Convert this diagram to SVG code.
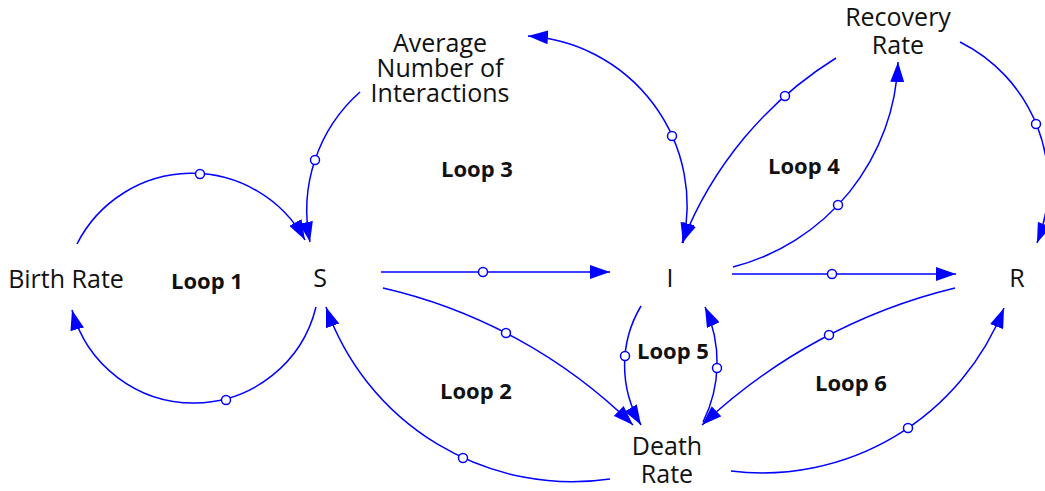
<svg xmlns="http://www.w3.org/2000/svg" width="1045" height="491" viewBox="0 0 1045 491">
<style>
.lbl{font-family:"Open Sans","Liberation Sans",sans-serif;font-size:25px;fill:#111;text-anchor:middle}
.loop{font-family:"Open Sans","Liberation Sans",sans-serif;font-size:22px;font-weight:bold;fill:#111;text-anchor:middle}
.c{fill:none;stroke:#0000ff;stroke-width:1.5;marker-end:url(#arr)}
.dot{fill:#fff;stroke:#0000ff;stroke-width:1.5}
</style>
<defs>
<marker id="arr" markerUnits="userSpaceOnUse" markerWidth="20" markerHeight="14" viewBox="0 0 20 14" refX="20" refY="7" orient="auto"><path d="M0,0 L20,7 L0,14 z" fill="#0000ff"/></marker>
<marker id="arrs" markerUnits="userSpaceOnUse" markerWidth="20" markerHeight="14" viewBox="0 0 20 14" refX="20" refY="7" orient="auto-start-reverse"><path d="M0,0 L20,7 L0,14 z" fill="#0000ff"/></marker>
</defs>
<rect width="1045" height="491" fill="#fff"/>
<g id="connectors">
<path class="c" d="M77,244 A129,129 0 0 1 305,240"/>
<path class="c" d="M316,307 A126,126 0 0 1 72,310"/>
<path class="c" d="M360,92 A158,158 0 0 0 310,242"/>
<path class="c" style="marker-start:url(#arrs)" d="M528,36 A170,170 0 0 1 683,243"/>
<path class="c" d="M836,58 A383,383 0 0 0 682,243"/>
<path class="c" d="M733,267 A220,220 0 0 0 898,62"/>
<path class="c" d="M960,42 A159,159 0 0 1 1037,243"/>
<path class="c" d="M381,272 L610,272"/>
<path class="c" d="M732,274 L956,274"/>
<path class="c" d="M383,288 A523,523 0 0 1 633,425"/>
<path class="c" d="M610,479 A261,261 0 0 1 326,307"/>
<path class="c" d="M641,306 A116,116 0 0 0 641,425"/>
<path class="c" d="M703,422 A133,133 0 0 0 705,307"/>
<path class="c" d="M955,288 A561,561 0 0 0 702,425"/>
<path class="c" d="M731,471 A260,260 0 0 0 1004,308"/>
<circle class="dot" cx="200" cy="174" r="4.5"/>
<circle class="dot" cx="226" cy="400" r="4.5"/>
<circle class="dot" cx="315" cy="160" r="4.5"/>
<circle class="dot" cx="672" cy="136" r="4.5"/>
<circle class="dot" cx="785" cy="96" r="4.5"/>
<circle class="dot" cx="838" cy="205" r="4.5"/>
<circle class="dot" cx="1036" cy="124" r="4.5"/>
<circle class="dot" cx="483" cy="272" r="4.5"/>
<circle class="dot" cx="832" cy="274" r="4.5"/>
<circle class="dot" cx="506" cy="333" r="4.5"/>
<circle class="dot" cx="463" cy="458" r="4.5"/>
<circle class="dot" cx="625" cy="356" r="4.5"/>
<circle class="dot" cx="717" cy="368" r="4.5"/>
<circle class="dot" cx="829" cy="335" r="4.5"/>
<circle class="dot" cx="908" cy="428" r="4.5"/>
</g>
<g id="birth-rate"><text class="lbl" x="66" y="288">Birth Rate</text></g>
<g id="s"><text class="lbl" x="320" y="287">S</text></g>
<g id="i"><text class="lbl" x="670" y="287">I</text></g>
<g id="r"><text class="lbl" x="1017" y="287">R</text></g>
<g id="avg-interactions"><text class="lbl" x="440" y="52">Average</text><text class="lbl" x="440" y="77">Number of</text><text class="lbl" x="440" y="102">Interactions</text></g>
<g id="recovery-rate"><text class="lbl" x="898" y="26">Recovery</text><text class="lbl" x="898" y="54">Rate</text></g>
<g id="death-rate"><text class="lbl" x="667" y="455">Death</text><text class="lbl" x="667" y="483">Rate</text></g>
<g id="loops">
<text class="loop" x="207" y="289">Loop 1</text>
<text class="loop" x="476" y="399">Loop 2</text>
<text class="loop" x="477" y="177">Loop 3</text>
<text class="loop" x="804" y="174">Loop 4</text>
<text class="loop" x="673" y="359">Loop 5</text>
<text class="loop" x="851" y="391">Loop 6</text>
</g>
</svg>
